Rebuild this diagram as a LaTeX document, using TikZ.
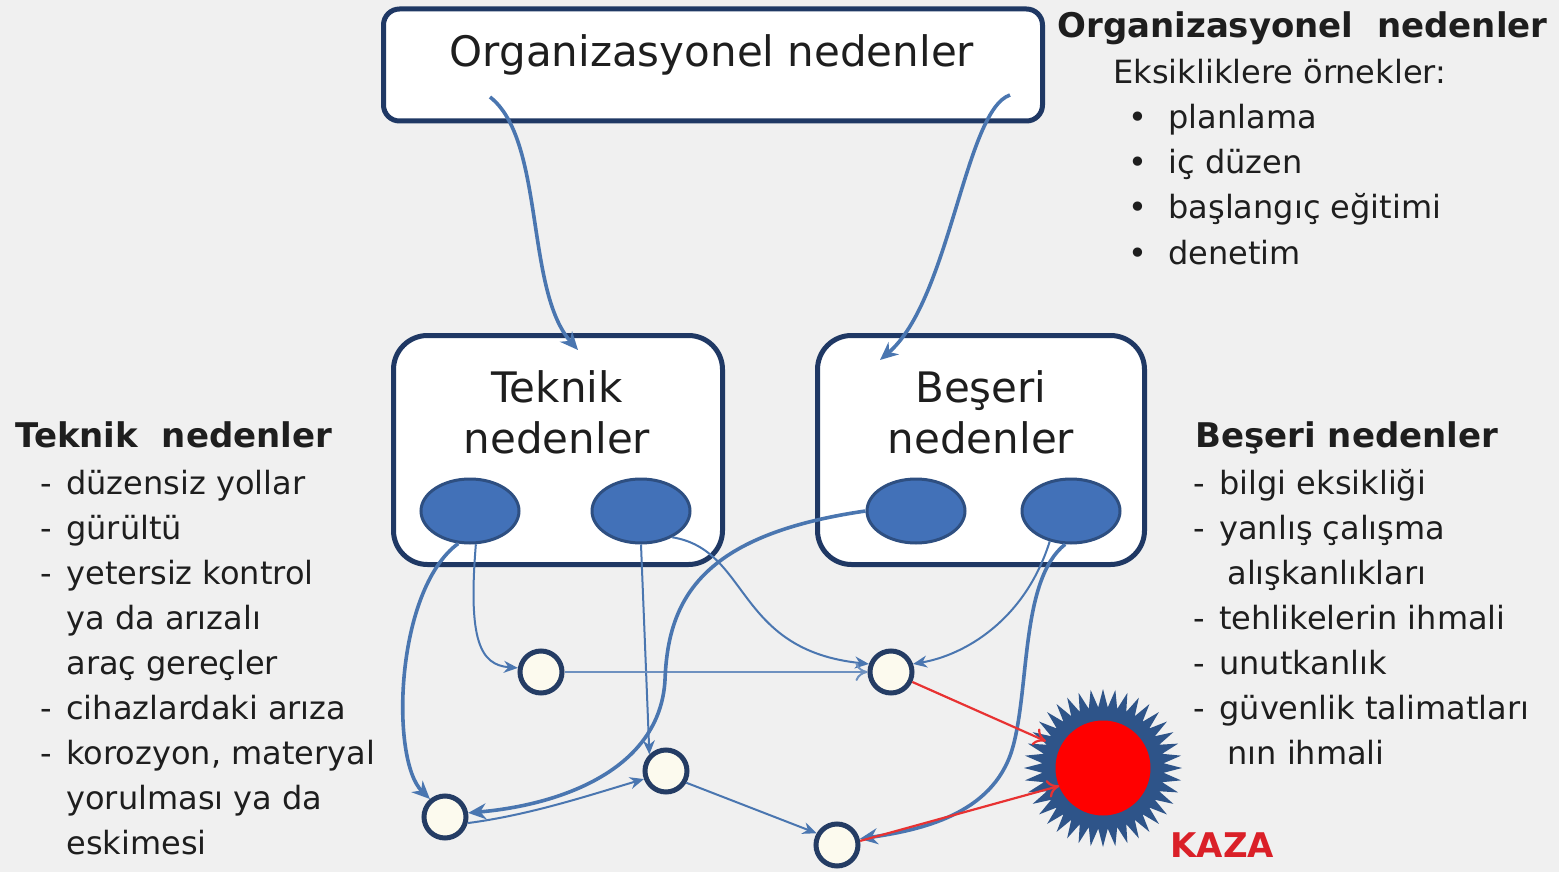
\documentclass[tikz,border=0pt]{standalone}
\usepackage{fontspec}
\setmainfont{DejaVu Sans}
\usepackage{tikz}
\usetikzlibrary{arrows.meta,shapes.geometric}

\definecolor{bggray}{RGB}{240,240,240}
\definecolor{boxnavy}{RGB}{31,56,100}
\definecolor{circnavy}{RGB}{36,60,100}
\definecolor{ellblue}{RGB}{66,113,184}
\definecolor{linkblue}{RGB}{74,118,176}
\definecolor{starblue}{RGB}{46,84,137}
\definecolor{kazared}{RGB}{218,32,40}
\definecolor{hitred}{RGB}{232,50,50}
\definecolor{txt}{RGB}{30,30,30}

\newcommand{\dsh}{\makebox[13pt][l]{-}}
\newcommand{\bul}{\makebox[20pt][l]{•}}

\begin{document}
\begin{tikzpicture}[x=0.5pt,y=-0.5pt,
	bigbox/.style={draw=boxnavy,line width=2.5pt,fill=white,inner sep=0pt},
	cause/.style={ellipse,draw=ellblue!70!black,line width=1.5pt,fill=ellblue,minimum width=49pt,minimum height=32pt,inner sep=0pt},
	event/.style={circle,draw=circnavy,line width=2.5pt,fill={rgb,255:red,252;green,250;blue,238},minimum size=21pt,inner sep=0pt},
	link/.style={draw=linkblue,line width=1pt,-{Stealth[length=7pt,width=6pt]}},
	strong/.style={link,line width=1.8pt,-{Stealth[length=9pt,width=8pt]}},
	hit/.style={draw=hitred,line width=1.1pt,-{To[length=6pt,width=9pt]}},
	item/.style={anchor=base west,inner sep=0pt,text=txt,font=\fontsize{16}{20}\selectfont},
	head/.style={anchor=base west,inner sep=0pt,text=txt,font=\fontsize{17}{20}\selectfont\bfseries}]
	\fill[bggray] (0,0) rectangle (1559,872);
	\useasboundingbox (0,0) rectangle (1559,872);

	% boxes
	\node[bigbox,rounded corners=8pt,minimum width=329.5pt,minimum height=56pt] (org) at (713,65) {};
	\node[text=txt,font=\fontsize{21}{25}\selectfont] (orgtxt) at (712,55) {Organizasyonel nedenler};
	\node[bigbox,rounded corners=17pt,minimum width=164.5pt,minimum height=114.5pt] (tek) at (558,450) {};
	\node[bigbox,rounded corners=17pt,minimum width=163.5pt,minimum height=114.5pt] (bes) at (981,450) {};
	\node[text=txt,align=center,font=\fontsize{21}{25.5}\selectfont] (tektxt) at (557,412) {Teknik\\nedenler};
	\node[text=txt,align=center,font=\fontsize{21}{25.5}\selectfont] (bestxt) at (981,412) {Beşeri\\nedenler};

	\node[cause] (e1) at (470,511) {};
	\node[cause] (e2) at (641,511) {};
	\node[cause] (e3) at (916,511) {};
	\node[cause] (e4) at (1071,511) {};

	\node[event] (c1) at (541,672) {};
	\node[event] (c2) at (891,672) {};
	\node[event] (c3) at (666,771) {};
	\node[event] (c4) at (445,817) {};
	\node[event] (c5) at (837,845) {};

	\node[star,star points=40,star point ratio=1.3,fill=starblue,minimum size=79pt,inner sep=0pt] (kaza) at (1103,768) {};
	\node[circle,fill=red,minimum size=47.5pt,inner sep=0pt] (kazacore) at (kaza) {};
	\node[anchor=base west,inner sep=0pt,text=kazared,font=\fontsize{17}{20}\selectfont\bfseries] (kazatxt) at (1170,857) {KAZA};

	\coordinate (o1) at (490,97);
	\coordinate (o2) at (1010,95);
	\coordinate (t1) at (578,350);
	\coordinate (b1) at (880,360);

	% connectors
	\draw[strong] (o1) .. controls (545,140) and (525,290) .. (t1);
	\draw[strong] (o2) .. controls (965,110) and (950,300) .. (b1);
	\draw[strong] (e1.250) .. controls (395,590) and (390,760) .. (c4.130);
	\draw[link] (e1.280) .. controls (468,640) and (480,665) .. (c1.170);
	\draw[link] (e2.south) -- (c3.135);
	\draw[link] (e2.-40) .. controls (750,550) and (735,650) .. (c2.160);
	\draw[link,draw=linkblue!80,-{To[length=6pt,width=9pt]}] (c1.east) -- (c2.west);
	\draw[strong] (e3.west) .. controls (700,535) and (668,600) .. (665,680) .. controls (660,770) and (560,805) .. (c4.10);
	\draw[link] (c4.-15) .. controls (530,815) and (590,795) .. (c3.200);
	\draw[link] (c3.-30) -- (c5.150);
	\draw[link] (e4.235) .. controls (1025,620) and (965,655) .. (c2.20);
	\draw[strong] (e4.260) .. controls (1020,580) and (1030,690) .. (1012,750) .. controls (992,815) and (920,830) .. (c5.15);
	\draw[hit,shorten >=-4pt] (c2.-25) -- (kaza.155);
	\draw[hit,shorten >=-12pt] (c5.10) -- (kaza.200);

	% texts
	\node[head] (orghead) at (1057,38) {Organizasyonel\ \ nedenler};
	\node[item] (orgsub) at (1113,84) {Eksikliklere örnekler:};
	\foreach \t [count=\i] in {planlama,iç düzen,başlangıç eğitimi,denetim}
		\node[item] (ol\i) at (1128,84+45*\i) {\bul\t};

	\node[head] (tekhead) at (15,447) {Teknik\ \ nedenler};
	\foreach \t [count=\i] in {{\dsh düzensiz yollar},{\dsh gürültü},{\dsh yetersiz kontrol},
		{\hspace{13pt}ya da arızalı},{\hspace{13pt}araç gereçler},{\dsh cihazlardaki arıza},
		{\dsh korozyon, materyal},{\hspace{13pt}yorulması ya da},{\hspace{13pt}eskimesi}}
		\node[item] (tl\i) at (40,449+45*\i) {\t};

	\node[head] (beshead) at (1195,447) {Beşeri nedenler};
	\foreach \t [count=\i] in {{\dsh bilgi eksikliği},{\dsh yanlış çalışma},{\hspace{17pt}alışkanlıkları},
		{\dsh tehlikelerin ihmali},{\dsh unutkanlık},{\dsh güvenlik talimatları},{\hspace{17pt}nın ihmali}}
		\node[item] (bl\i) at (1193,449+45*\i) {\t};
\end{tikzpicture}
\end{document}
